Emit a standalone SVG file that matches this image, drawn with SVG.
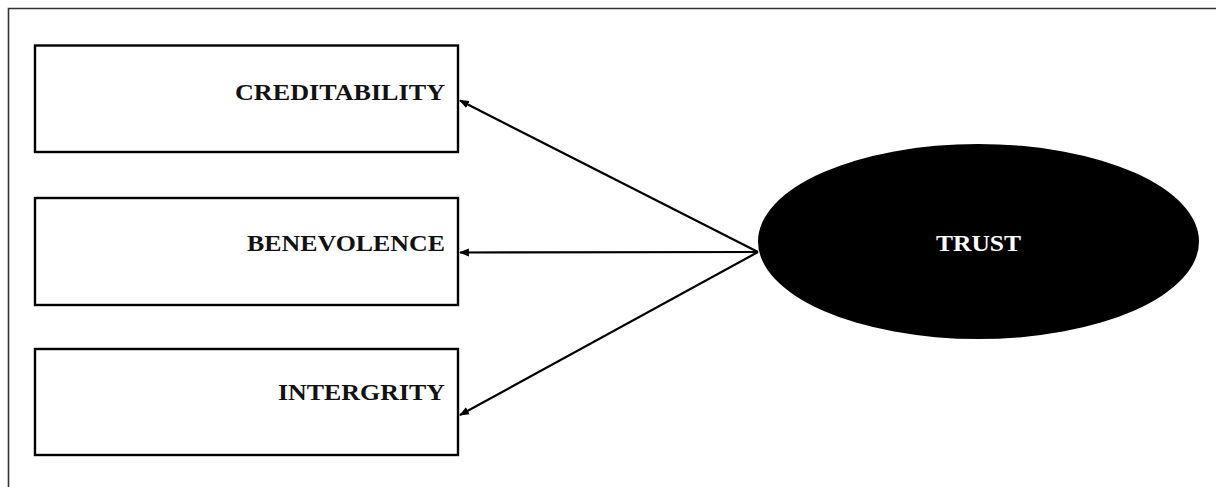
<svg xmlns="http://www.w3.org/2000/svg" width="1216" height="487" viewBox="0 0 1216 487">
  <style>
    .box { fill: #ffffff; stroke: #000000; stroke-width: 2.4; }
    .label { font-family: "Liberation Serif", "Times New Roman", serif; font-weight: bold; font-size: 23.5px; fill: #111111; }
    .edge { stroke: #000000; stroke-width: 2.2; fill: none; marker-end: url(#arrow); }
  </style>
  <defs>
    <marker id="arrow" viewBox="0 0 10 10" refX="9" refY="5" markerWidth="4.5" markerHeight="4.5" orient="auto" markerUnits="strokeWidth">
      <path d="M0,1 L10,5 L0,9 Z" fill="#000000"/>
    </marker>
  </defs>

  <rect width="1216" height="487" fill="#ffffff"/>

  <!-- outer frame (open on the right and bottom) -->
  <path d="M8.5,487 L8.5,8.5 L1216,8.5" fill="none" stroke="#333333" stroke-width="1.6"/>

  <g id="creditability">
    <rect class="box" x="35" y="45.5" width="423" height="106.5"/>
    <text class="label" x="235" y="100" textLength="210" lengthAdjust="spacingAndGlyphs">CREDITABILITY</text>
  </g>

  <g id="benevolence">
    <rect class="box" x="35" y="198" width="423" height="107"/>
    <text class="label" x="247" y="251" textLength="198" lengthAdjust="spacingAndGlyphs">BENEVOLENCE</text>
  </g>

  <g id="intergrity">
    <rect class="box" x="35" y="349" width="423" height="106"/>
    <text class="label" x="278" y="400" textLength="167" lengthAdjust="spacingAndGlyphs">INTERGRITY</text>
  </g>

  <g id="trust">
    <ellipse cx="978.5" cy="241.5" rx="220.5" ry="97.5" fill="#000000"/>
    <text class="label" x="936" y="251" textLength="85" lengthAdjust="spacingAndGlyphs" style="fill:#ffffff">TRUST</text>
  </g>

  <g id="connectors">
    <line class="edge" x1="758" y1="252" x2="460" y2="100.5"/>
    <line class="edge" x1="758" y1="252" x2="460" y2="252.5"/>
    <line class="edge" x1="758" y1="252" x2="460" y2="415"/>
  </g>
</svg>
